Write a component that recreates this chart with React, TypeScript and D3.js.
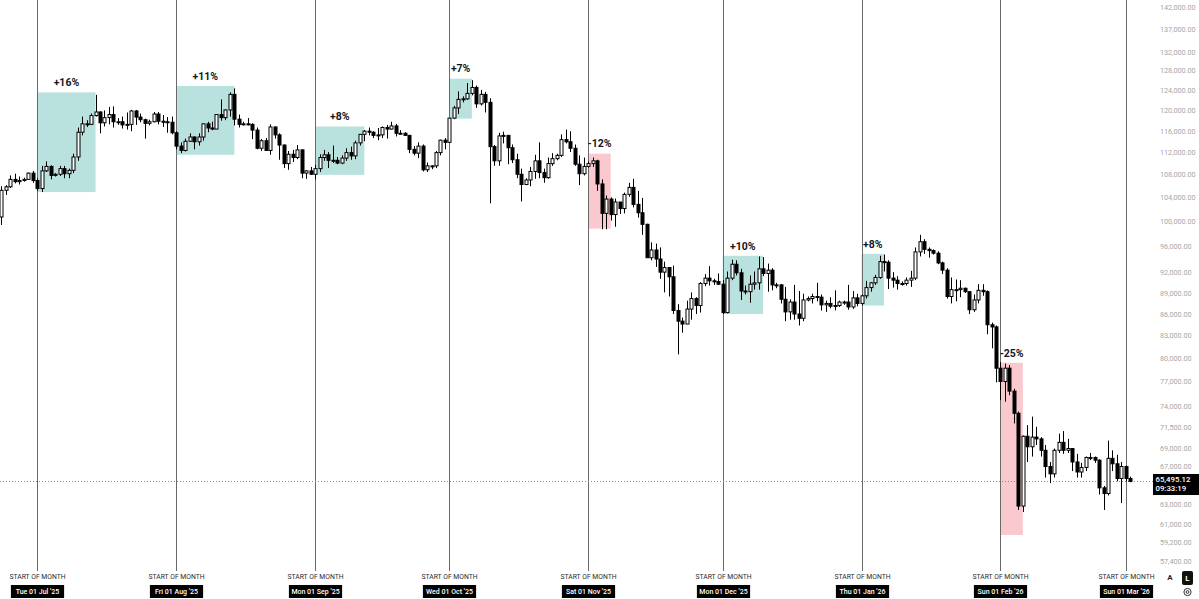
import React from 'react';
import * as d3 from 'd3';

// Daily BTC candles, values in thousands of USD: [open, high, low, close]
const jun25 = [
  [100.9, 106.1, 99.6, 105.4], [105.4, 106.3, 104.6, 106.0], [106.0, 108.0, 105.8, 107.3], [107.3, 108.3, 106.6, 106.9],
  [106.9, 107.8, 106.4, 107.1], [107.1, 107.6, 106.9, 107.3], [107.3, 108.5, 107.2, 108.4], [108.4, 108.8, 106.7, 107.1],
];
const jul25 = [
  [107.1, 107.5, 105.3, 105.7], [105.7, 109.7, 105.1, 108.8], [108.8, 110.5, 108.6, 109.6], [109.6, 109.8, 107.3, 108.0],
  [108.0, 108.4, 107.8, 108.2], [108.2, 109.7, 107.9, 109.2], [109.2, 109.7, 107.5, 108.3], [108.3, 109.2, 107.5, 108.9],
  [108.9, 111.9, 108.4, 111.3], [111.3, 116.8, 110.6, 115.9], [115.9, 118.9, 115.3, 117.5], [117.5, 118.2, 116.9, 117.4],
  [117.4, 119.5, 117.3, 119.1], [119.1, 123.2, 118.9, 119.8], [119.8, 119.9, 115.7, 117.7], [117.7, 120.1, 117.0, 118.7],
  [118.7, 120.8, 117.4, 119.3], [119.3, 120.9, 116.8, 117.9], [117.9, 118.6, 117.3, 117.9], [117.9, 118.9, 116.6, 117.3],
  [117.3, 119.7, 116.4, 117.4], [117.4, 120.2, 116.1, 120.0], [120.0, 120.2, 117.3, 118.8], [118.8, 119.5, 117.8, 118.3],
  [118.3, 118.5, 114.7, 117.6], [117.6, 118.3, 117.2, 117.9], [117.9, 119.8, 117.8, 119.4], [119.4, 119.8, 117.4, 118.0],
  [118.0, 119.2, 116.9, 117.9], [117.9, 118.8, 115.8, 117.8], [117.8, 118.9, 115.5, 115.8],
];
const aug25 = [
  [115.8, 116.1, 112.7, 113.3], [113.3, 114.0, 112.0, 112.5], [112.5, 114.7, 112.3, 114.2], [114.2, 115.7, 114.1, 115.0],
  [115.0, 115.1, 112.7, 114.1], [114.1, 115.7, 113.4, 115.0], [115.0, 117.6, 114.3, 117.5], [117.5, 117.9, 115.9, 116.7],
  [116.7, 117.9, 116.3, 116.5], [116.5, 119.3, 116.5, 119.3], [119.3, 122.3, 118.1, 118.7], [118.7, 120.3, 118.2, 120.2],
  [120.2, 123.7, 118.9, 123.3], [123.3, 124.5, 117.2, 118.4], [118.4, 119.3, 116.8, 117.4], [117.4, 117.9, 117.2, 117.5],
  [117.5, 118.6, 117.2, 117.4], [117.4, 117.6, 114.6, 116.3], [116.3, 116.8, 112.7, 112.9], [112.9, 114.6, 112.4, 114.3],
  [114.3, 114.8, 112.4, 112.5], [112.5, 117.4, 111.7, 116.9], [116.9, 117.0, 114.7, 115.4], [115.4, 115.7, 110.8, 113.5],
  [113.5, 113.6, 109.3, 110.1], [110.1, 112.4, 109.0, 111.8], [111.8, 112.6, 110.4, 111.2], [111.2, 113.5, 110.9, 112.6],
  [112.6, 112.7, 107.5, 108.4], [108.4, 108.9, 107.4, 108.8], [108.8, 109.5, 108.1, 108.2],
];
const sep25 = [
  [108.2, 109.9, 107.3, 109.2], [109.2, 111.8, 108.6, 111.2], [111.2, 112.6, 110.6, 111.7], [111.7, 112.2, 109.3, 110.7],
  [110.7, 113.4, 110.2, 110.7], [110.7, 111.3, 110.0, 110.2], [110.2, 111.6, 110.0, 111.1], [111.1, 112.9, 110.6, 112.1],
  [112.1, 113.2, 110.8, 111.5], [111.5, 114.3, 110.9, 113.9], [113.9, 115.5, 113.4, 115.5], [115.5, 116.3, 114.2, 116.1],
  [116.1, 116.8, 115.3, 115.9], [115.9, 116.1, 114.8, 115.3], [115.3, 116.7, 114.4, 115.4], [115.4, 117.0, 114.8, 116.8],
  [116.8, 117.3, 114.7, 116.5], [116.5, 117.9, 116.4, 117.1], [117.1, 117.5, 115.1, 115.7], [115.7, 116.3, 115.5, 115.7],
  [115.7, 115.9, 115.2, 115.3], [115.3, 115.4, 112.0, 112.7], [112.7, 113.3, 111.6, 112.0], [112.0, 114.0, 111.1, 113.3],
  [113.3, 113.6, 108.7, 109.0], [109.0, 110.3, 108.6, 109.7], [109.7, 109.8, 109.1, 109.7], [109.7, 112.4, 109.3, 112.1],
  [112.1, 114.5, 111.6, 114.4], [114.4, 114.8, 112.7, 114.0],
];
const oct25 = [
  [114.0, 118.6, 113.9, 118.6], [118.6, 121.0, 118.4, 120.6], [120.6, 123.9, 119.4, 122.3], [122.3, 122.9, 121.7, 122.4],
  [122.4, 125.6, 122.2, 123.5], [123.5, 126.2, 123.1, 124.7], [124.7, 125.1, 120.6, 121.4], [121.4, 124.2, 121.1, 123.3],
  [123.3, 123.8, 119.7, 121.7], [121.7, 122.5, 103.2, 113.2], [113.2, 113.5, 109.7, 110.6], [110.6, 115.8, 109.7, 115.2],
  [115.2, 116.0, 113.8, 115.3], [115.3, 115.4, 110.0, 113.0], [113.0, 113.6, 110.2, 110.8], [110.8, 111.9, 107.5, 108.2],
  [108.2, 109.2, 103.5, 106.4], [106.4, 107.5, 106.3, 107.2], [107.2, 109.5, 106.1, 108.7], [108.7, 111.7, 107.4, 110.6],
  [110.6, 114.0, 107.5, 108.5], [108.5, 109.2, 106.7, 107.6], [107.6, 111.2, 107.4, 110.1], [110.1, 112.0, 109.7, 111.0],
  [111.0, 111.9, 110.7, 111.6], [111.6, 115.5, 111.3, 114.5], [114.5, 116.4, 113.8, 114.1], [114.1, 116.1, 112.2, 112.9],
  [112.9, 113.6, 109.7, 110.0], [110.0, 111.6, 106.3, 108.3], [108.3, 111.2, 108.0, 109.6],
];
const nov25 = [
  [109.6, 110.5, 109.4, 110.1], [110.1, 111.2, 109.5, 110.6], [110.6, 110.8, 105.3, 106.5], [106.5, 107.3, 98.9, 101.5],
  [101.5, 104.5, 98.9, 103.9], [103.9, 104.2, 100.3, 101.3], [101.3, 104.0, 99.3, 103.4], [103.4, 103.4, 101.4, 102.3],
  [102.3, 105.0, 101.5, 104.7], [104.7, 106.7, 104.3, 105.9], [105.9, 107.4, 102.5, 103.0], [103.0, 105.3, 100.8, 101.6],
  [101.6, 104.1, 98.0, 99.7], [99.7, 99.8, 94.6, 94.4], [94.4, 96.8, 94.0, 95.6], [95.6, 96.6, 93.0, 94.2],
  [94.2, 96.0, 91.2, 92.2], [92.2, 93.8, 89.2, 92.9], [92.9, 92.9, 88.6, 91.5], [91.5, 93.2, 86.1, 86.6],
  [86.6, 87.5, 80.6, 85.1], [85.1, 85.6, 83.5, 84.7], [84.7, 88.0, 84.7, 86.8], [86.8, 89.2, 85.3, 88.3],
  [88.3, 88.5, 86.1, 87.3], [87.3, 90.7, 86.3, 90.5], [90.5, 91.9, 90.1, 91.3], [91.3, 93.1, 90.2, 90.9],
  [90.9, 91.2, 90.3, 90.8], [90.8, 92.0, 90.3, 90.4],
];
const dec25 = [
  [90.4, 91.0, 86.1, 86.3], [86.3, 92.3, 86.2, 91.3], [91.3, 94.1, 91.0, 93.4], [93.4, 94.0, 91.7, 92.1],
  [92.1, 92.7, 88.1, 89.4], [89.4, 90.2, 88.9, 89.3], [89.3, 91.7, 87.7, 90.4], [90.4, 92.3, 89.6, 90.6],
  [90.6, 94.6, 89.6, 92.7], [92.7, 94.5, 91.6, 92.0], [92.0, 93.5, 89.3, 92.5], [92.5, 92.8, 89.5, 90.3],
  [90.3, 90.6, 89.8, 90.3], [90.3, 90.4, 87.6, 88.2], [88.2, 90.0, 85.1, 86.4], [86.4, 88.2, 85.3, 87.8],
  [87.8, 90.3, 85.3, 86.1], [86.1, 89.4, 84.5, 85.5], [85.5, 89.0, 85.1, 88.1], [88.1, 88.6, 87.9, 88.3],
  [88.3, 89.0, 87.6, 88.6], [88.6, 90.6, 87.9, 88.5], [88.5, 88.9, 86.6, 87.4], [87.4, 88.0, 86.4, 87.6],
  [87.6, 88.5, 86.9, 87.2], [87.2, 89.5, 86.6, 87.3], [87.3, 88.0, 87.1, 87.8], [87.8, 88.0, 87.4, 87.8],
  [87.8, 90.3, 86.7, 87.1], [87.1, 89.4, 86.8, 88.4], [88.4, 89.0, 87.2, 87.6],
];
const jan26 = [
  [87.6, 88.9, 87.3, 88.7], [88.7, 90.9, 88.3, 89.9], [89.9, 90.7, 89.3, 90.6], [90.6, 91.8, 90.3, 91.4],
  [91.4, 94.7, 91.2, 93.8], [93.8, 94.9, 92.3, 93.7], [93.7, 94.0, 89.7, 91.3], [91.3, 92.2, 89.9, 91.0],
  [91.0, 91.6, 89.6, 90.5], [90.5, 90.8, 90.2, 90.5], [90.5, 91.4, 90.2, 91.0], [91.0, 92.4, 90.0, 91.3],
  [91.3, 96.0, 91.0, 95.3], [95.3, 98.0, 94.6, 96.9], [96.9, 97.3, 95.0, 95.7], [95.7, 96.0, 94.4, 95.5],
  [95.5, 95.7, 94.9, 95.1], [95.1, 95.4, 93.4, 93.6], [93.6, 93.8, 91.9, 92.5], [92.5, 92.8, 88.3, 88.6],
  [88.6, 91.4, 87.6, 89.6], [89.6, 91.1, 87.9, 89.6], [89.6, 91.0, 88.5, 89.8], [89.8, 89.9, 89.1, 89.3],
  [89.3, 89.4, 86.1, 86.7], [86.7, 88.9, 86.4, 88.1], [88.1, 90.4, 87.6, 89.5], [89.5, 90.4, 88.7, 89.3],
  [89.3, 89.5, 83.3, 84.6], [84.6, 84.9, 81.4, 84.3], [84.3, 84.5, 77.0, 78.8],
];
const feb26 = [
  [78.8, 79.6, 74.8, 77.1], [77.1, 79.4, 74.6, 78.8], [78.8, 79.2, 75.4, 75.9], [75.9, 76.2, 72.0, 73.2],
  [73.2, 73.4, 62.5, 62.9], [62.9, 70.6, 62.3, 70.5], [70.5, 71.8, 67.6, 69.3], [69.3, 72.8, 68.2, 70.4],
  [70.4, 71.6, 69.5, 70.2], [70.2, 70.4, 68.2, 68.9], [68.9, 69.5, 65.9, 67.1], [67.1, 67.6, 65.3, 66.3],
  [66.3, 69.1, 65.9, 68.9], [68.9, 70.8, 68.6, 69.8], [69.8, 71.1, 68.5, 68.9], [68.9, 70.2, 68.6, 69.1],
  [69.1, 69.1, 66.6, 67.6], [67.6, 68.5, 65.9, 66.5], [66.5, 67.5, 65.9, 67.0], [67.0, 68.2, 66.6, 68.1],
  [68.1, 68.6, 67.8, 68.1], [68.1, 68.2, 67.5, 67.8], [67.8, 67.9, 64.1, 64.8], [64.8, 65.0, 62.5, 64.2],
  [64.2, 70.0, 64.0, 68.0], [68.0, 68.9, 66.6, 67.4], [67.4, 68.4, 65.5, 65.8], [65.8, 67.6, 63.2, 67.1],
];
const mar26 = [
  [67.1, 67.2, 65.5, 65.8], [65.8, 66.0, 65.4, 65.495],
];

const monthSeries: [number, number, number, number[][]][] = [
  [2025, 5, 23, jun25], [2025, 6, 1, jul25], [2025, 7, 1, aug25], [2025, 8, 1, sep25], [2025, 9, 1, oct25],
  [2025, 10, 1, nov25], [2025, 11, 1, dec25], [2026, 0, 1, jan26], [2026, 1, 1, feb26], [2026, 2, 1, mar26],
];

// Month start markers
const monthStarts = [
  [2025, 6, "Tue 01 Jul '25"], [2025, 7, "Fri 01 Aug '25"], [2025, 8, "Mon 01 Sep '25"], [2025, 9, "Wed 01 Oct '25"],
  [2025, 10, "Sat 01 Nov '25"], [2025, 11, "Mon 01 Dec '25"], [2026, 0, "Thu 01 Jan '26"], [2026, 1, "Sun 01 Feb '26"],
  [2026, 2, "Sun 01 Mar '26"],
] as [number, number, string][];

// Monthly start ranges: [year, month, startDay, endDay, low, high, label]
const rangeBoxes: [number, number, number, number, number, number, string][] = [
  [2025, 6, 1, 14, 105.1, 123.7, '+16%'],
  [2025, 7, 1, 14, 111.7, 125.0, '+11%'],
  [2025, 8, 1, 12, 108.1, 117.0, '+8%'],
  [2025, 9, 1, 6, 118.5, 126.5, '+7%'],
  [2025, 10, 1, 6, 99.0, 111.9, '-12%'],
  [2025, 11, 1, 10, 86.1, 94.7, '+10%'],
  [2026, 0, 1, 6, 87.3, 95.0, '+8%'],
  [2026, 1, 1, 6, 60.0, 79.5, '-25%'],
];

const priceTicks = [142, 137, 132, 128, 124, 120, 116, 112, 108, 104, 100, 96, 92, 89, 86, 83, 80, 77, 74, 71.5, 69, 67, 63, 61, 59.2, 57.4];
const lastPrice = 65.49512;
const lastPriceLabel = '65,495.12';
const countdownLabel = '09:33:19';

const W = 1199;
const H = 599;
const FONT = 'Roboto, "Noto Sans", sans-serif';

export default function App() {
  const x = d3.scaleUtc().domain([Date.UTC(2025, 6, 1), Date.UTC(2026, 2, 1)]).range([37.3, 1125.9]);
  const y = d3.scaleLog().domain([57.4, 142]).range([562, 8]);
  const fmt = d3.format(',.2f');

  const candles: { t: number; o: number; h: number; l: number; c: number }[] = [];
  monthSeries.forEach(([yr, mo, d0, rows]) => {
    rows.forEach((r, i) => {
      candles.push({ t: Date.UTC(yr, mo, d0 + i), o: r[0], h: r[1], l: r[2], c: r[3] });
    });
  });

  const px = (t: number) => Math.round(x(t)) + 0.5;
  const lpY = Math.round(y(lastPrice));

  return (
    <svg width={W} height={H} style={{ position: 'absolute', left: 0, top: 0, background: '#fff', fontFamily: FONT }}>
      <rect x={0} y={0} width={W} height={H} fill="#fff" />
      {/* range boxes */}
      {rangeBoxes.map(([yr, mo, d0, d1, lo, hi, label], i) => {
        const x0 = x(Date.UTC(yr, mo, d0));
        const x1 = x(Date.UTC(yr, mo, d1));
        const up = label.startsWith('+');
        return (
          <rect key={'b' + i} x={x0} y={y(hi)} width={x1 - x0} height={y(lo) - y(hi)}
            fill={up ? '#b9e2de' : '#f9c9cf'} />
        );
      })}
      {/* month lines */}
      {monthStarts.map(([yr, mo], i) => {
        const xx = px(Date.UTC(yr, mo, 1));
        return <line key={'m' + i} x1={xx} x2={xx} y1={0} y2={571} stroke="#6a6a6a" strokeWidth={1} />;
      })}
      {/* last price dotted line */}
      <line x1={0} x2={1153} y1={lpY + 0.5} y2={lpY + 0.5}
        stroke="#8a8a8a" strokeWidth={1} strokeDasharray="1,2" />
      {/* candles */}
      {candles.map((k, i) => {
        const cx = px(k.t);
        const up = k.c >= k.o;
        const top = Math.min(y(k.o), y(k.c));
        const bh = Math.max(1, Math.abs(y(k.o) - y(k.c)));
        return (
          <g key={'c' + i}>
            <line x1={cx} x2={cx} y1={y(k.h)} y2={y(k.l)} stroke="#000" strokeWidth={1} />
            <rect x={cx - 1.5} y={top} width={3} height={bh}
              fill={up ? '#fff' : '#000'} stroke="#000" strokeWidth={1} />
          </g>
        );
      })}
      {/* percentage labels */}
      {rangeBoxes.map(([yr, mo, d0, d1, , hi, label], i) => {
        const xc = (x(Date.UTC(yr, mo, d0)) + x(Date.UTC(yr, mo, d1))) / 2;
        return (
          <text key={'l' + i} x={xc} y={y(hi) - 9} textAnchor="middle" dominantBaseline="middle"
            fontSize={10.5} fontWeight={700} fill="#131722">{label}</text>
        );
      })}
      {/* price axis labels */}
      {priceTicks.map((v, i) => (
        <text key={'t' + i} x={1160} y={y(v)} dominantBaseline="middle" fontSize={7.2} fill="#a6a6a6">
          {fmt(v * 1000)}
        </text>
      ))}
      {/* last price label */}
      <rect x={1153} y={lpY - 7} width={46} height={21} fill="#000" />
      <text x={1155.5} y={lpY - 1.5} dominantBaseline="middle" fontSize={7.8} fill="#fff" fontWeight={500}>
        {lastPriceLabel}
      </text>
      <text x={1155.5} y={lpY + 8} dominantBaseline="middle" fontSize={7.8} fill="#fff" fontWeight={500}>
        {countdownLabel}
      </text>
      {/* month labels */}
      {monthStarts.map(([yr, mo, label], i) => {
        const xx = px(Date.UTC(yr, mo, 1));
        const bw = label.length * 3.8;
        return (
          <g key={'ml' + i}>
            <text x={xx} y={577} textAnchor="middle" dominantBaseline="middle" fontSize={6.8} fill="#2a2a2a">
              START OF MONTH
            </text>
            <rect x={xx - bw / 2} y={585} width={bw} height={13} fill="#000" />
            <text x={xx} y={591.8} textAnchor="middle" dominantBaseline="middle" fontSize={7} fill="#fff" fontWeight={500}>
              {label}
            </text>
          </g>
        );
      })}
      {/* A / L buttons and settings */}
      <text x={1170} y={578} textAnchor="middle" dominantBaseline="middle" fontSize={8} fontWeight={600} fill="#222">A</text>
      <rect x={1182} y={571} width={11} height={14} rx={2} fill="#111" />
      <text x={1187.5} y={578.5} textAnchor="middle" dominantBaseline="middle" fontSize={8} fontWeight={700} fill="#fff">L</text>
      <circle cx={1187.5} cy={592} r={3.6} fill="none" stroke="#333" strokeWidth={1} />
      <circle cx={1187.5} cy={592} r={1.4} fill="none" stroke="#333" strokeWidth={1} />
    </svg>
  );
}
